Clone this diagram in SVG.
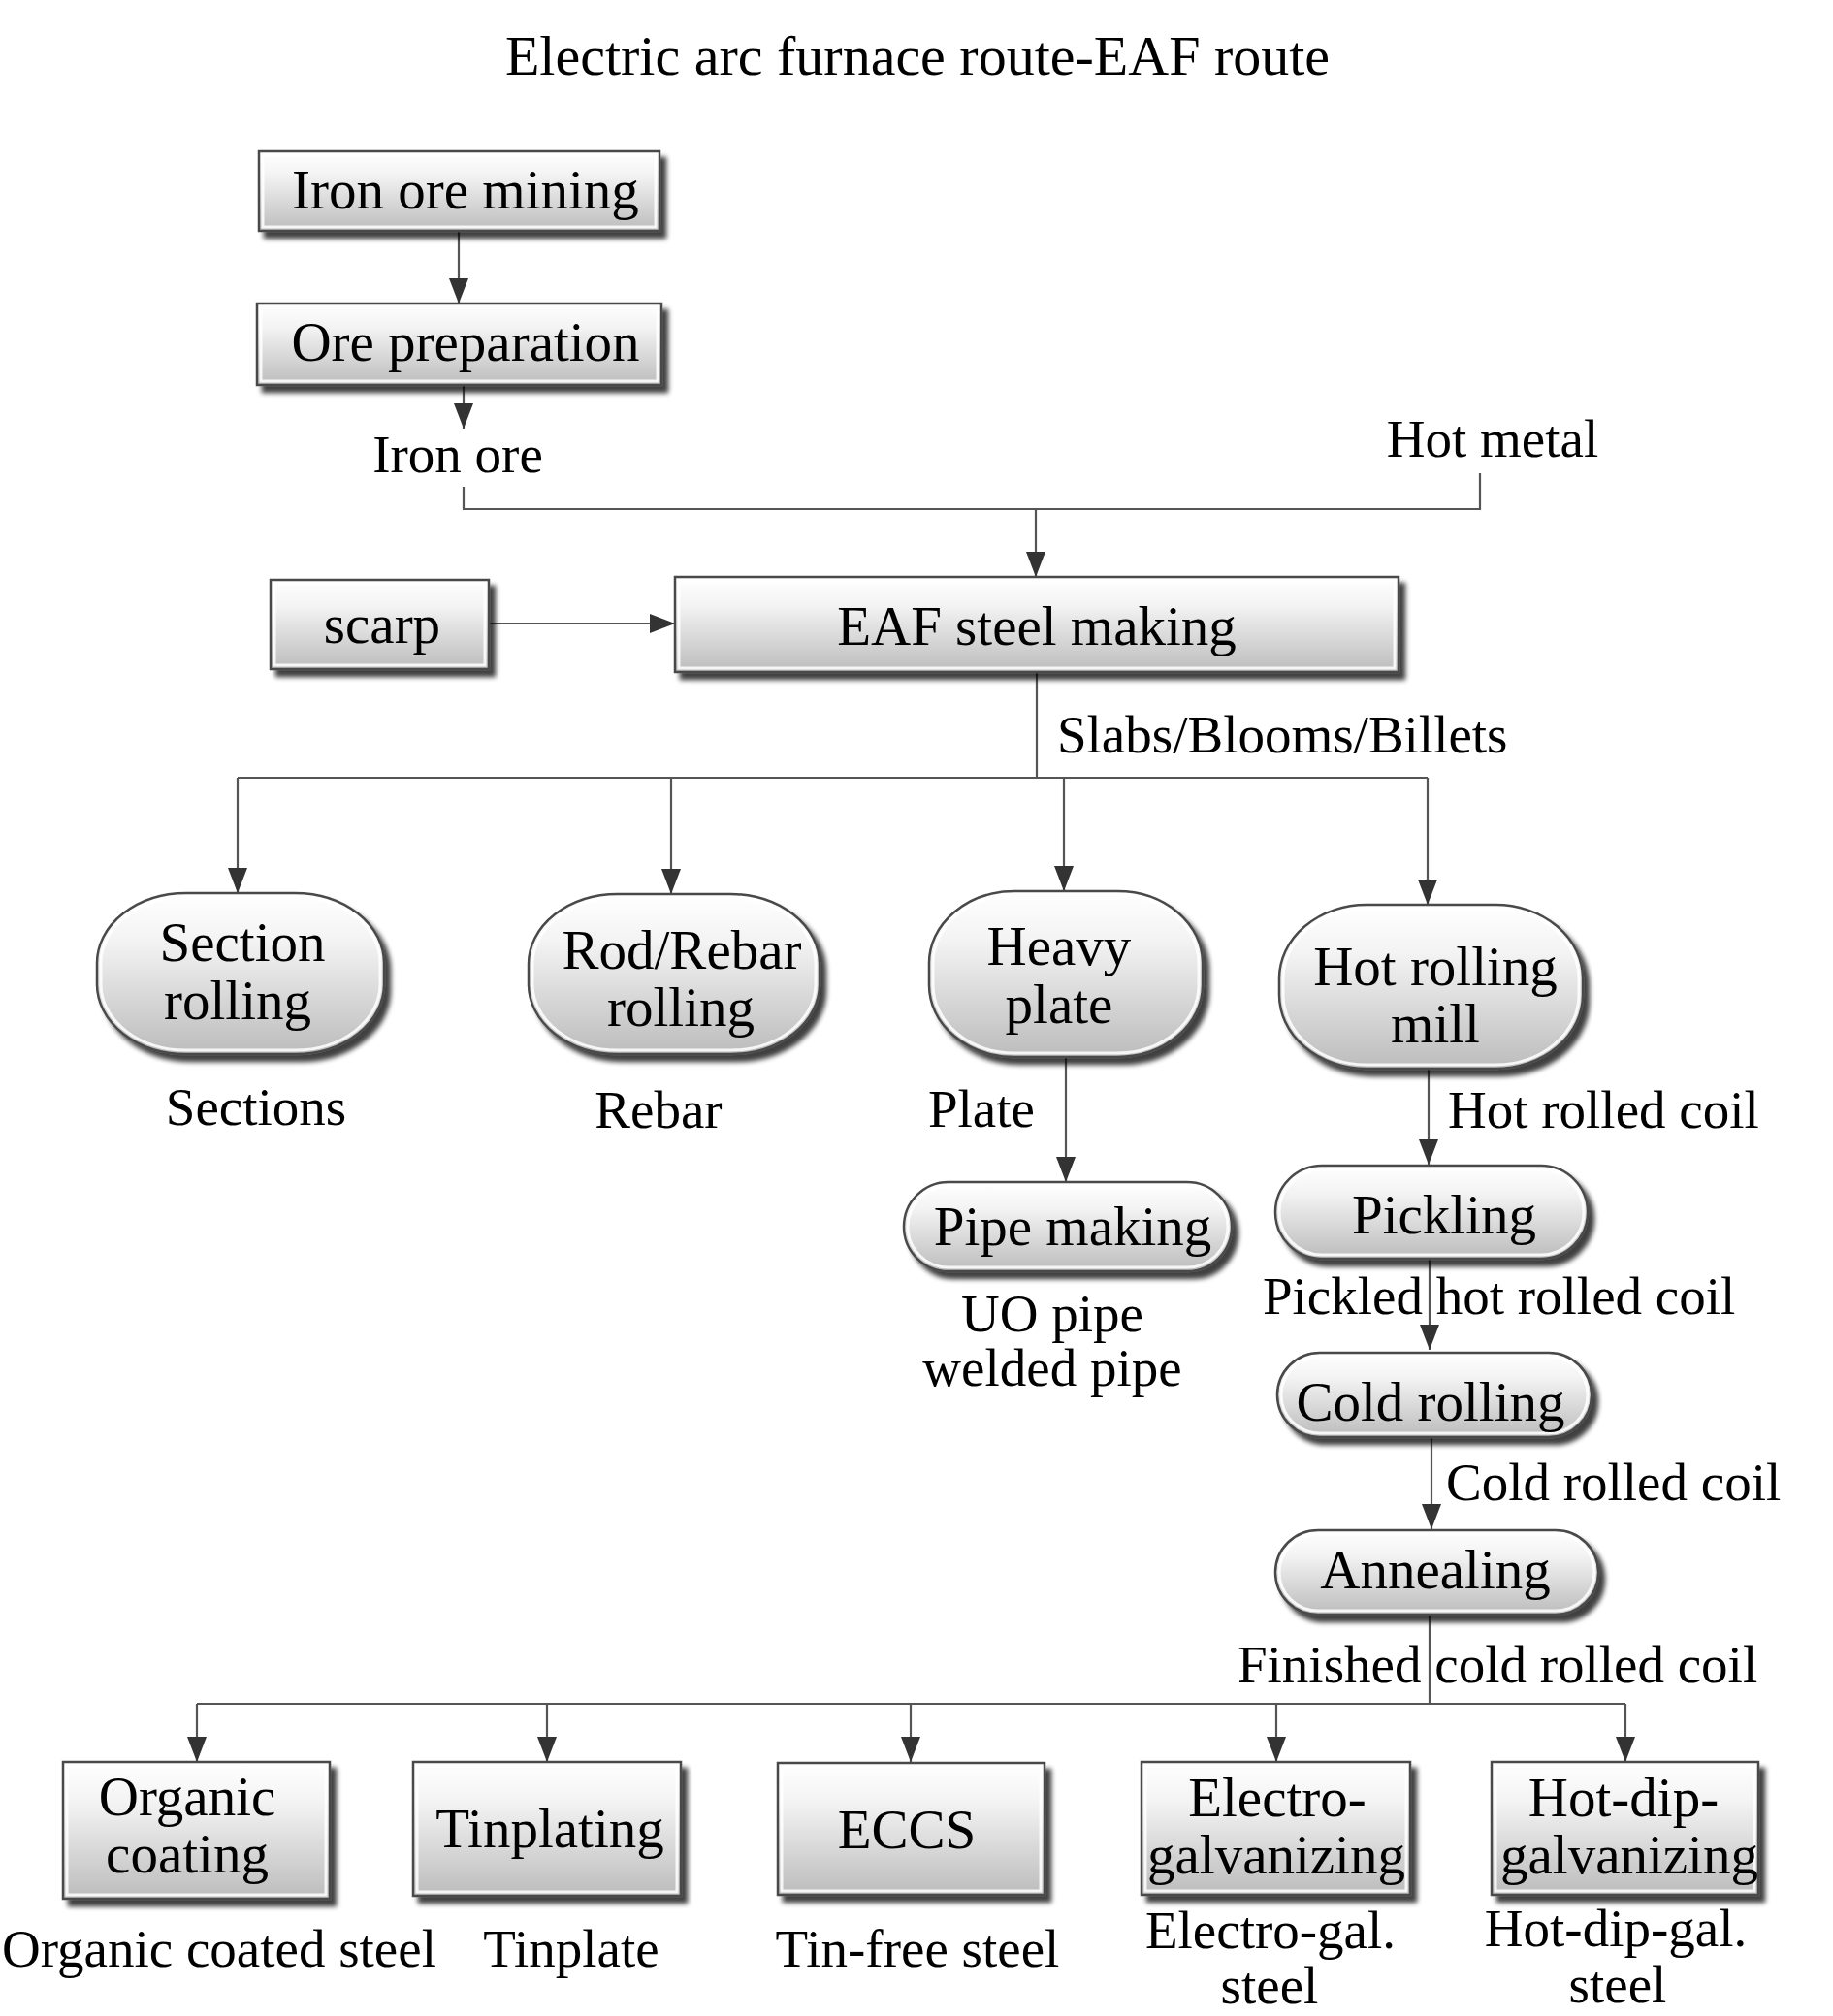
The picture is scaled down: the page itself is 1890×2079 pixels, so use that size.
<svg xmlns="http://www.w3.org/2000/svg" width="1890" height="2079" viewBox="0 0 1890 2079">
<style>
text{font-family:"Liberation Serif","Times New Roman",serif;fill:#000}
.t{font-size:58px;text-anchor:middle}
.n{font-size:57px;text-anchor:middle}
.l{font-size:55px}
.lc{font-size:55px;text-anchor:middle}
.box{fill:url(#g);stroke:#4a4a4a;stroke-width:2.5;filter:url(#sh)}
.hl{fill:none;stroke:#ffffff;stroke-width:3;opacity:0.85}
.c{fill:none;stroke:#555;stroke-width:2.2}
.a{fill:none;stroke:#555;stroke-width:2.2;marker-end:url(#ah)}
</style>
<defs>
<linearGradient id="g" x1="0" y1="0" x2="0" y2="1">
<stop offset="0" stop-color="#ffffff"/>
<stop offset="0.3" stop-color="#f3f3f3"/>
<stop offset="1" stop-color="#bcbcbc"/>
</linearGradient>
<filter id="sh" x="-10%" y="-10%" width="130%" height="140%">
<feGaussianBlur in="SourceAlpha" stdDeviation="2.5"/>
<feOffset dx="6" dy="7" result="o"/>
<feComponentTransfer><feFuncA type="linear" slope="0.75"/></feComponentTransfer>
<feMerge><feMergeNode/><feMergeNode in="SourceGraphic"/></feMerge>
</filter>
<marker id="ah" markerUnits="userSpaceOnUse" markerWidth="28" markerHeight="22" refX="26" refY="10" orient="auto">
<path d="M0,0 L26,10 L0,20 Z" fill="#333"/>
</marker>
</defs>
<rect x="0" y="0" width="1890" height="2079" fill="#ffffff"/>

<text class="t" x="946" y="77">Electric arc furnace route-EAF route</text>

<g id="connectors">
<line class="a" x1="473" y1="239" x2="473" y2="313"/>
<line class="a" x1="478" y1="397" x2="478" y2="442"/>
<polyline class="c" points="478,502 478,525 1526,525 1526,488"/>
<line class="a" x1="1068" y1="525" x2="1068" y2="595"/>
<line class="a" x1="504" y1="643" x2="696" y2="643"/>
<line class="c" x1="1069" y1="693" x2="1069" y2="802"/>
<line class="c" x1="245" y1="802" x2="1472" y2="802"/>
<line class="a" x1="245" y1="802" x2="245" y2="921"/>
<line class="a" x1="692" y1="802" x2="692" y2="922"/>
<line class="a" x1="1097" y1="802" x2="1097" y2="919"/>
<line class="a" x1="1472" y1="802" x2="1472" y2="933"/>
<line class="a" x1="1099" y1="1090" x2="1099" y2="1219"/>
<line class="a" x1="1473" y1="1102" x2="1473" y2="1201"/>
<line class="a" x1="1474" y1="1298" x2="1474" y2="1392"/>
<line class="a" x1="1476" y1="1482" x2="1476" y2="1577"/>
<line class="c" x1="1474" y1="1665" x2="1474" y2="1757"/>
<line class="c" x1="203" y1="1757" x2="1676" y2="1757"/>
<line class="a" x1="203" y1="1757" x2="203" y2="1817"/>
<line class="a" x1="564" y1="1757" x2="564" y2="1817"/>
<line class="a" x1="939" y1="1757" x2="939" y2="1817"/>
<line class="a" x1="1316" y1="1757" x2="1316" y2="1817"/>
<line class="a" x1="1676" y1="1757" x2="1676" y2="1817"/>
</g>

<g id="n-iron-ore-mining">
<rect class="box" x="267" y="156" width="413" height="82"/>
<rect class="hl" x="271" y="160" width="405" height="74"/>
<text class="n" x="480" y="215">Iron ore mining</text>
</g>
<g id="n-ore-preparation">
<rect class="box" x="265" y="313" width="417" height="84"/>
<rect class="hl" x="269" y="317" width="409" height="76"/>
<text class="n" x="480" y="372">Ore preparation</text>
</g>
<g id="n-scarp">
<rect class="box" x="279" y="598" width="225" height="92"/>
<rect class="hl" x="283" y="602" width="217" height="84"/>
<text class="n" x="394" y="663">scarp</text>
</g>
<g id="n-eaf">
<rect class="box" x="696" y="595" width="746" height="98"/>
<rect class="hl" x="700" y="599" width="738" height="90"/>
<text class="n" x="1069" y="665">EAF steel making</text>
</g>

<g id="n-section-rolling">
<rect class="box" x="100" y="921" width="296" height="166" rx="92" ry="72"/>
<rect class="hl" x="104" y="925" width="288" height="158" rx="88" ry="68"/>
<text class="n" x="250" y="991">Section</text>
<text class="n" x="245" y="1051">rolling</text>
</g>
<g id="n-rod-rebar-rolling">
<rect class="box" x="545" y="922" width="300" height="165" rx="92" ry="72"/>
<rect class="hl" x="549" y="926" width="292" height="157" rx="88" ry="68"/>
<text class="n" x="703" y="999">Rod/Rebar</text>
<text class="n" x="702" y="1058">rolling</text>
</g>
<g id="n-heavy-plate">
<rect class="box" x="958" y="919" width="282" height="171" rx="88" ry="74"/>
<rect class="hl" x="962" y="923" width="274" height="163" rx="84" ry="70"/>
<text class="n" x="1092" y="995">Heavy</text>
<text class="n" x="1092" y="1055">plate</text>
</g>
<g id="n-hot-rolling-mill">
<rect class="box" x="1319" y="933" width="313" height="169" rx="90" ry="76"/>
<rect class="hl" x="1323" y="937" width="305" height="161" rx="86" ry="72"/>
<text class="n" x="1480" y="1016">Hot rolling</text>
<text class="n" x="1480" y="1075">mill</text>
</g>
<g id="n-pipe-making">
<rect class="box" x="932" y="1219" width="338" height="92" rx="46" ry="46"/>
<rect class="hl" x="936" y="1223" width="330" height="84" rx="42" ry="42"/>
<text class="n" x="1106" y="1284">Pipe making</text>
</g>
<g id="n-pickling">
<rect class="box" x="1315" y="1202" width="322" height="96" rx="48" ry="48"/>
<rect class="hl" x="1319" y="1206" width="314" height="88" rx="44" ry="44"/>
<text class="n" x="1489" y="1272">Pickling</text>
</g>
<g id="n-cold-rolling">
<rect class="box" x="1317" y="1395" width="324" height="87" rx="44" ry="44"/>
<rect class="hl" x="1321" y="1399" width="316" height="79" rx="40" ry="40"/>
<text class="n" x="1475" y="1465">Cold rolling</text>
</g>
<g id="n-annealing">
<rect class="box" x="1315" y="1578" width="333" height="87" rx="44" ry="44"/>
<rect class="hl" x="1319" y="1582" width="325" height="79" rx="40" ry="40"/>
<text class="n" x="1480" y="1638">Annealing</text>
</g>

<g id="n-organic-coating">
<rect class="box" x="65" y="1817" width="275" height="141"/>
<rect class="hl" x="69" y="1821" width="267" height="133"/>
<text class="n" x="193" y="1872">Organic</text>
<text class="n" x="193" y="1931">coating</text>
</g>
<g id="n-tinplating">
<rect class="box" x="426" y="1817" width="276" height="138"/>
<rect class="hl" x="430" y="1821" width="268" height="130"/>
<text class="n" x="567" y="1905">Tinplating</text>
</g>
<g id="n-eccs">
<rect class="box" x="802" y="1818" width="275" height="136"/>
<rect class="hl" x="806" y="1822" width="267" height="128"/>
<text class="n" x="935" y="1906">ECCS</text>
</g>
<g id="n-electro-galvanizing">
<rect class="box" x="1177" y="1817" width="277" height="137"/>
<rect class="hl" x="1181" y="1821" width="269" height="129"/>
<text class="n" x="1317" y="1873">Electro-</text>
<text class="n" x="1316" y="1932">galvanizing</text>
</g>
<g id="n-hot-dip-galvanizing">
<rect class="box" x="1538" y="1817" width="275" height="137"/>
<rect class="hl" x="1542" y="1821" width="267" height="129"/>
<text class="n" x="1674" y="1873">Hot-dip-</text>
<text class="n" x="1680" y="1932">galvanizing</text>
</g>

<g id="labels">
<text class="lc" x="472" y="487">Iron ore</text>
<text class="lc" x="1539" y="471">Hot metal</text>
<text class="l" x="1090" y="776">Slabs/Blooms/Billets</text>
<text class="lc" x="264" y="1160">Sections</text>
<text class="lc" x="679" y="1163">Rebar</text>
<text class="lc" x="1012" y="1162">Plate</text>
<text class="l" x="1493" y="1163">Hot rolled coil</text>
<text class="lc" x="1085" y="1373">UO pipe</text>
<text class="lc" x="1085" y="1429">welded pipe</text>
<text class="l" x="1302" y="1355">Pickled hot rolled coil</text>
<text class="l" x="1491" y="1547">Cold rolled coil</text>
<text class="l" x="1276" y="1735">Finished cold rolled coil</text>
<text class="lc" x="226" y="2028">Organic coated steel</text>
<text class="lc" x="589" y="2028">Tinplate</text>
<text class="lc" x="946" y="2028">Tin-free steel</text>
<text class="lc" x="1310" y="2009">Electro-gal.</text>
<text class="lc" x="1309" y="2066">steel</text>
<text class="lc" x="1666" y="2007">Hot-dip-gal.</text>
<text class="lc" x="1668" y="2065">steel</text>
</g>
</svg>
